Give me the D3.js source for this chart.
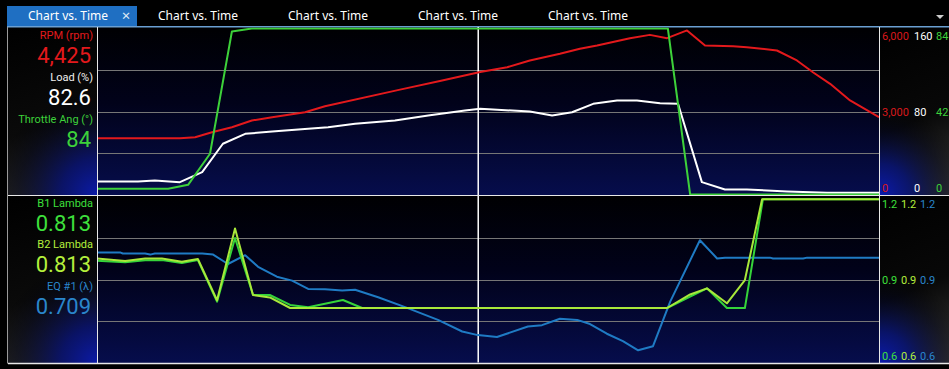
<!DOCTYPE html>
<html><head><meta charset="utf-8">
<script src="https://cdn.jsdelivr.net/npm/d3@7/dist/d3.min.js"></script>
<style>
html,body{margin:0;padding:0;background:#000;overflow:hidden}
svg{display:block}
text{font-family:"Noto Sans","Open Sans",sans-serif}
.lbl{font-family:Roboto,"Noto Sans",sans-serif}
</style></head>
<body><svg id="c" width="949" height="369"></svg>
<script>
// ---------------- data ----------------
const tabLabels = ["Chart vs. Time","Chart vs. Time","Chart vs. Time","Chart vs. Time","Chart vs. Time"];
const timeDomain = [0, 20];
const cursorTime = 9.75;

const rpmTime   = [0,2.12,2.51,2.94,3.45,3.96,4.48,5.32,5.83,7.75,8.77,9.80,10.49,11.07,11.84,12.35,12.79,13.63,14.14,14.58,15.09,15.55,16.27,16.62,17.39,17.90,18.31,18.75,19.26,20];
const rpmValues = [2030,2030,2070,2250,2430,2675,2795,2975,3190,3790,4105,4430,4600,4845,5085,5265,5385,5650,5770,5650,5930,5385,5360,5325,5205,4845,4420,4000,3400,2795];

const loadTime   = [0,1.05,1.48,2.12,2.69,3.22,3.79,4.48,5.40,5.91,6.60,7.62,8.47,9.41,9.80,11.07,11.64,12.15,12.69,13.30,13.81,14.40,14.86,15.47,16.06,16.62,17.65,18.67,20];
const loadValues = [12.5,12.5,13.5,11.9,21.5,48.9,58.5,60.7,63.3,64.9,68.1,71.3,76.1,81.0,82.6,80.0,76.1,79.3,87.4,90.6,90.6,88.0,87.4,11.9,4.8,4.8,2.9,1.6,1.6];

const throttleTime   = [0,1.82,2.33,2.89,3.45,3.96,14.60,15.17,20];
const throttleValues = [2.9,2.9,4.9,20.6,82.5,84,84,0,0];

const b1Time   = [0,0.72,1.23,1.66,2.17,2.58,3.07,3.53,3.99,4.42,4.94,5.40,6.29,6.78,14.58,15.17,15.60,16.11,16.57,17.03,20];
const b1Values = [0.968,0.962,0.970,0.970,0.960,0.970,0.820,1.050,0.844,0.844,0.808,0.800,0.826,0.797,0.797,0.838,0.868,0.797,0.797,1.19,1.19];

const b2Time   = [0,0.72,1.23,1.66,2.17,2.58,3.07,3.53,3.99,4.42,4.94,14.58,15.17,15.60,16.11,16.57,17.01,20];
const b2Values = [0.976,0.967,0.976,0.976,0.964,0.974,0.825,1.084,0.844,0.835,0.797,0.797,0.846,0.868,0.814,0.898,1.19,1.19];

const eqTime   = [0,0.59,0.66,1.23,1.36,1.48,2.69,2.97,3.35,3.79,4.12,4.60,4.99,5.40,5.83,6.27,6.60,7.19,7.88,8.72,9.34,9.74,10.23,11.02,11.38,11.84,12.28,12.61,13.04,13.45,13.84,14.22,14.66,15.42,15.86,16.06,17.21,17.29,18.06,18.16,20];
const eqValues = [0.998,0.998,0.994,0.994,0.990,0.994,0.994,0.990,0.956,0.988,0.946,0.910,0.896,0.866,0.865,0.860,0.863,0.836,0.800,0.754,0.712,0.699,0.692,0.730,0.735,0.758,0.754,0.739,0.704,0.677,0.644,0.659,0.820,1.042,0.976,0.979,0.979,0.976,0.976,0.979,0.979];

const rpmTicks = [0,3000,6000];
const loadTicks = [0,80,160];
const throttleTicks = [0,42,84];
const lambdaTicks = [0.6,0.9,1.2];

const topLabels = [["RPM (rpm)","4,425"],["Load (%)","82.6"],["Throttle Ang (°)","84"]];
const bottomLabels = [["B1 Lambda","0.813"],["B2 Lambda","0.813"],["EQ #1 (λ)","0.709"]];

// ---------------- drawing ----------------
const svg = d3.select("#c");
const defs = svg.append("defs");

const X0 = 97, X1 = 879;
const T0 = 28.5, T1 = 194.5, B0 = 196.5, B1 = 362.5;

const x = d3.scaleLinear().domain(timeDomain).range([X0, X1]);
const yRpm = d3.scaleLinear().domain([0,6000]).range([T1, T0]);
const yLoad = d3.scaleLinear().domain([0,160]).range([T1, T0]);
const yThr = d3.scaleLinear().domain([0,84]).range([T1, T0]);
const yLam = d3.scaleLinear().domain([0.6,1.2]).range([B1, B0]);

const cRed = "#e3191c", cWhite = "#ffffff", cGreen = "#3dd13a", cB1 = "#35d43a", cB2 = "#a8e83a", cBlue = "#1f7bc4";

// gradients
const gPlot = defs.append("linearGradient").attr("id","gPlot").attr("x1",0).attr("y1",0).attr("x2",0).attr("y2",1);
gPlot.append("stop").attr("offset","0%").attr("stop-color","#000002");
gPlot.append("stop").attr("offset","45%").attr("stop-color","#01021a");
gPlot.append("stop").attr("offset","100%").attr("stop-color","#060d4c");

function radial(id, cx, cy, r, stops){
  const g = defs.append("radialGradient").attr("id",id).attr("gradientUnits","userSpaceOnUse")
    .attr("cx",cx).attr("cy",cy).attr("r",r);
  stops.forEach(s=>g.append("stop").attr("offset",s[0]).attr("stop-color",s[1]).attr("stop-opacity",s[2]));
}
function linear(id, x1,y1,x2,y2, stops){
  const g = defs.append("linearGradient").attr("id",id).attr("gradientUnits","userSpaceOnUse")
    .attr("x1",x1).attr("y1",y1).attr("x2",x2).attr("y2",y2);
  stops.forEach(s=>g.append("stop").attr("offset",s[0]).attr("stop-color",s[1]).attr("stop-opacity",s[2]));
}

const panels = [[27.5, 195],[196, B1+0.5]];
panels.forEach(([a,b],k)=>{
  linear("gLG"+k, 8, a, 60, b, [["0%","#000000",1],["60%","#0a0a0a",1],["100%","#2a2a2a",1]]);
  radial("gLB"+k, X0, b, 105, [["0%","#0b1aa8",1],["35%","#061070",0.85],["75%","#020520",0.4],["100%","#000000",0]]);
  linear("gRG"+k, X1, a, 949, b, [["0%","#000000",1],["55%","#080808",1],["100%","#3a3a3a",1]]);
  radial("gRB"+k, X1, b, 90, [["0%","#0b1ab0",1],["35%","#061275",0.85],["75%","#020520",0.4],["100%","#000000",0]]);
  svg.append("rect").attr("x",8).attr("y",a).attr("width",X0-8).attr("height",b-a).attr("fill",`url(#gLG${k})`);
  svg.append("rect").attr("x",8).attr("y",a).attr("width",X0-8).attr("height",b-a).attr("fill",`url(#gLB${k})`);
  svg.append("rect").attr("x",X0).attr("y",a).attr("width",X1-X0).attr("height",b-a).attr("fill","url(#gPlot)");
  svg.append("rect").attr("x",X1).attr("y",a).attr("width",949-X1).attr("height",b-a).attr("fill",`url(#gRG${k})`);
  svg.append("rect").attr("x",X1).attr("y",a).attr("width",949-X1).attr("height",b-a).attr("fill",`url(#gRB${k})`);
});

// tab bar
svg.append("rect").attr("x",0).attr("y",0).attr("width",949).attr("height",27).attr("fill","#000");
svg.append("rect").attr("x",7).attr("y",6).attr("width",130).attr("height",21).attr("fill","#1f6fc2");
svg.selectAll("text.tab").data(tabLabels).enter().append("text").attr("class","tab")
  .attr("x",(d,i)=>28 + i*130).attr("y",20).attr("fill","#fff").attr("font-size",12).text(d=>d);
svg.append("text").attr("x",126).attr("y",21).attr("text-anchor","middle").attr("fill","#dfe9f5")
  .attr("font-size",15).text("×");
svg.append("path").attr("d","M936,15 L944,15 L940,19 Z").attr("fill","#ccc");
svg.append("rect").attr("x",7).attr("y",26).attr("width",942).attr("height",1.5).attr("fill","#6a9fd2");

// grid lines
const gridCol = "#767676";
[1500,3000,4500].forEach(v=>{
  svg.append("line").attr("x1",X0).attr("x2",X1).attr("y1",Math.round(yRpm(v))+0.5).attr("y2",Math.round(yRpm(v))+0.5)
    .attr("stroke",gridCol).attr("stroke-width",1);
});
[0.75,0.9,1.05].forEach(v=>{
  svg.append("line").attr("x1",X0).attr("x2",X1).attr("y1",Math.round(yLam(v))+0.5).attr("y2",Math.round(yLam(v))+0.5)
    .attr("stroke",gridCol).attr("stroke-width",1);
});

// cursor
svg.append("line").attr("x1",x(cursorTime)).attr("x2",x(cursorTime)).attr("y1",27).attr("y2",B1)
  .attr("stroke","#fff").attr("stroke-width",1.5);

// clip paths
defs.append("clipPath").attr("id","clipTop").append("rect").attr("x",X0).attr("y",27.5).attr("width",X1-X0).attr("height",T1-27.5+1);
defs.append("clipPath").attr("id","clipBot").append("rect").attr("x",X0).attr("y",B0-0.5).attr("width",X1-X0).attr("height",B1-B0);

function drawLine(clip, times, vals, yS, col, w){
  const data = times.map((t,i)=>[t, vals[i]]);
  svg.append("path").attr("clip-path",`url(#${clip})`).datum(data)
    .attr("d", d3.line().x(d=>x(d[0])).y(d=>yS(d[1])))
    .attr("fill","none").attr("stroke",col).attr("stroke-width",w).attr("stroke-linejoin","round");
}
drawLine("clipTop", loadTime, loadValues, yLoad, cWhite, 2);
drawLine("clipTop", rpmTime, rpmValues, yRpm, cRed, 2);
drawLine("clipTop", throttleTime, throttleValues, yThr, cGreen, 2);

drawLine("clipBot", eqTime, eqValues, yLam, cBlue, 2);
drawLine("clipBot", b1Time, b1Values, yLam, cB1, 2);
drawLine("clipBot", b2Time, b2Values, yLam, cB2, 2);

// frame lines
const fr = "#e8e8e8";
svg.append("line").attr("x1",7.5).attr("x2",7.5).attr("y1",27).attr("y2",B1+1).attr("stroke","#9a9a9a").attr("stroke-width",1);
svg.append("line").attr("x1",X0+0.5).attr("x2",X0+0.5).attr("y1",27).attr("y2",B1+1).attr("stroke",fr).attr("stroke-width",1);
svg.append("line").attr("x1",X1+0.5).attr("x2",X1+0.5).attr("y1",27).attr("y2",B1+1).attr("stroke",fr).attr("stroke-width",1);
svg.append("line").attr("x1",8).attr("x2",949).attr("y1",195.5).attr("y2",195.5).attr("stroke",fr).attr("stroke-width",1.2);
svg.append("line").attr("x1",8).attr("x2",949).attr("y1",B1+1).attr("y2",B1+1).attr("stroke",fr).attr("stroke-width",1.5);

// left labels
const topCols = [cRed, cWhite, cGreen];
const topLblY = [[39,63],[81,105],[123,147]];
topLabels.forEach((d,i)=>{
  svg.append("text").attr("class","lbl").attr("x",93).attr("y",topLblY[i][0]).attr("text-anchor","end").attr("font-size",11)
    .attr("fill", i===1 ? "#f0f0f0" : topCols[i]).text(d[0]);
  svg.append("text").attr("class","lbl").attr("x",91).attr("y",topLblY[i][1]).attr("text-anchor","end").attr("font-size",22)
    .attr("fill",topCols[i]).text(d[1]);
});
const botCols = ["#3ee03c", "#b4f03c", "#2a86cc"];
const botLblY = [[207,231],[248,272],[290,314]];
bottomLabels.forEach((d,i)=>{
  svg.append("text").attr("class","lbl").attr("x",93).attr("y",botLblY[i][0]).attr("text-anchor","end").attr("font-size",11)
    .attr("fill",botCols[i]).text(d[0]);
  svg.append("text").attr("class","lbl").attr("x",91).attr("y",botLblY[i][1]).attr("text-anchor","end").attr("font-size",22)
    .attr("fill",botCols[i]).text(d[1]);
});

// right axis labels
function axisLabels(ticks, yS, xPos, col, fmt, top, bot){
  ticks.forEach((v,i)=>{
    const yy = yS(v);
    let base = yy + 4;
    if (i === ticks.length-1) base = top + 11;
    if (i === 0) base = bot - 2.5;
    svg.append("text").attr("class","lbl").attr("x",xPos).attr("y",base).attr("font-size",11).attr("fill",col).text(fmt(v));
  });
}
axisLabels(rpmTicks, yRpm, 882, "#d8181c", d3.format(","), T0, T1);
axisLabels(loadTicks, yLoad, 914, "#fff", d3.format("d"), T0, T1);
axisLabels(throttleTicks, yThr, 936, "#3dd13a", d3.format("d"), T0, T1);
axisLabels(lambdaTicks, yLam, 882, "#3ee03c", d3.format(".1f"), B0, B1);
axisLabels(lambdaTicks, yLam, 901, "#b4f03c", d3.format(".1f"), B0, B1);
axisLabels(lambdaTicks, yLam, 920, "#2a86cc", d3.format(".1f"), B0, B1);
</script></body></html>
